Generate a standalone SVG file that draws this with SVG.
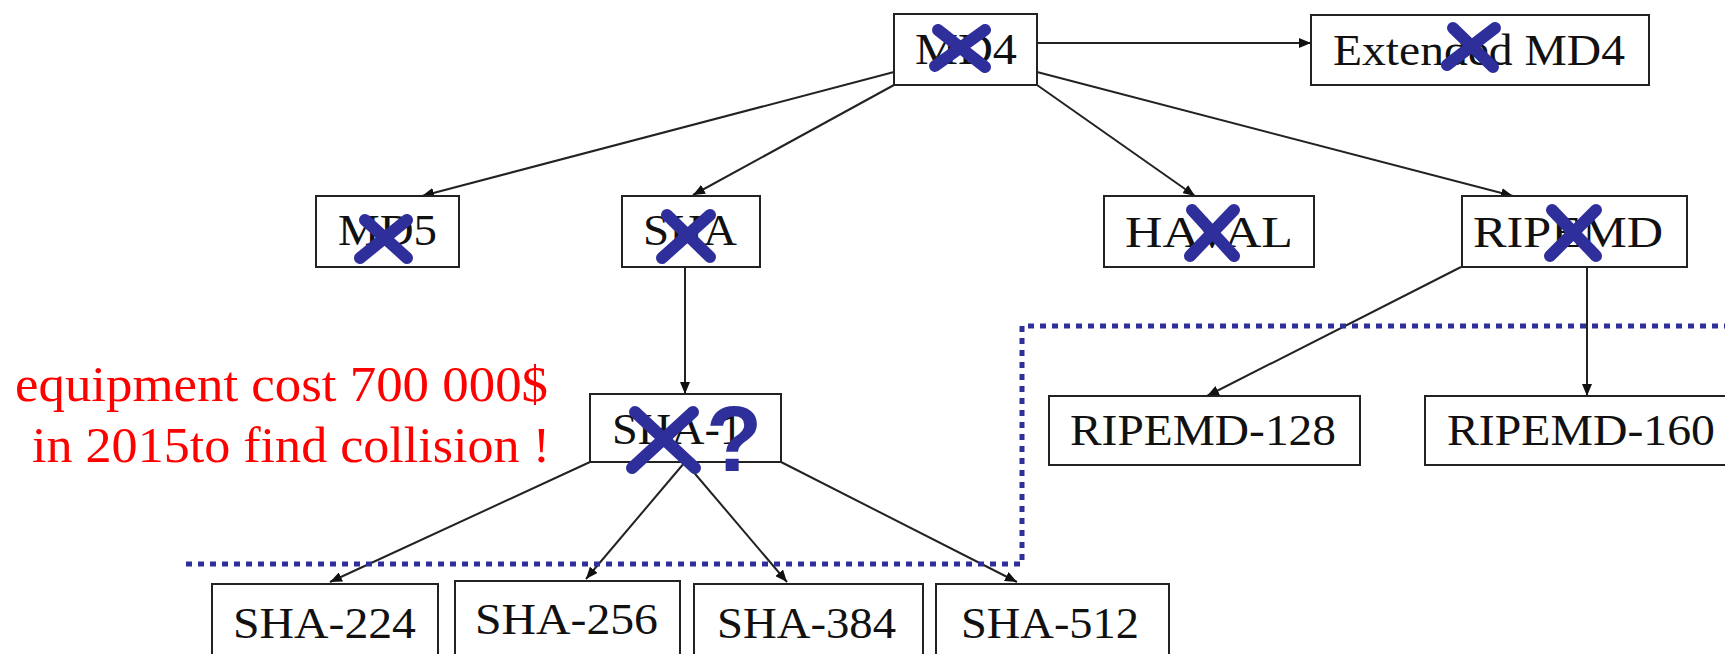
<svg xmlns="http://www.w3.org/2000/svg" width="1725" height="654" viewBox="0 0 1725 654">
  <defs>
    <marker id="arrow" markerUnits="userSpaceOnUse" markerWidth="12" markerHeight="10" refX="12" refY="5" orient="auto">
      <path d="M0,0 L12,5 L0,10 z" fill="#111"/>
    </marker>
    <style>
      .box { fill: #fff; stroke: #222; stroke-width: 2; }
      .serif { font-family: 'Times New Roman', 'Liberation Serif', Tinos, 'Nimbus Roman', 'Noto Serif', 'DejaVu Serif', FreeSerif, Times, serif; }
      .lbl { font-size: 44px; fill: #111; }
      .edge { stroke: #222; stroke-width: 2; fill: none; marker-end: url(#arrow); }
      .cross { stroke: #2f2f9c; stroke-width: 12; stroke-linecap: round; fill: none; }
      .boundary { stroke: #2f2f9c; stroke-width: 5; stroke-dasharray: 6 6; fill: none; }
      .note { font-size: 51px; fill: #ff0000; }
    </style>
  </defs>
  <rect width="1725" height="654" fill="#fff"/>

  <!-- connectors -->
  <g id="connectors">
    <path class="edge" d="M1037,43 L1311,43"/>
    <path class="edge" d="M894,72 L422,196"/>
    <path class="edge" d="M894,85 L693,195"/>
    <path class="edge" d="M1037,85 L1195,196"/>
    <path class="edge" d="M1037,72 L1513,196"/>
    <path class="edge" d="M685,267 L685,394"/>
    <path class="edge" d="M1461,267 L1207,396"/>
    <path class="edge" d="M1587,267 L1587,396"/>
    <path class="edge" d="M590,462 L330,582"/>
    <path class="edge" d="M685,462 L586,579"/>
    <path class="edge" d="M685,462 L787,582"/>
    <path class="edge" d="M781,462 L1017,582"/>
  </g>

  <!-- hash function nodes -->
  <g class="serif">
    <g id="md4">
      <rect class="box" x="894" y="14" width="143" height="71"/>
      <text class="lbl" x="915" y="64" textLength="102" lengthAdjust="spacingAndGlyphs">MD4</text>
    </g>
    <g id="extended-md4">
      <rect class="box" x="1311" y="15" width="338" height="70"/>
      <text class="lbl" x="1333" y="65" textLength="292" lengthAdjust="spacingAndGlyphs">Extended MD4</text>
    </g>
    <g id="md5">
      <rect class="box" x="316" y="196" width="143" height="71"/>
      <text class="lbl" x="338" y="245" textLength="99" lengthAdjust="spacingAndGlyphs">MD5</text>
    </g>
    <g id="sha">
      <rect class="box" x="622" y="196" width="138" height="71"/>
      <text class="lbl" x="643" y="245" textLength="94" lengthAdjust="spacingAndGlyphs">SHA</text>
    </g>
    <g id="haval">
      <rect class="box" x="1104" y="196" width="210" height="71"/>
      <text class="lbl" x="1125" y="247" textLength="168" lengthAdjust="spacingAndGlyphs">HAVAL</text>
    </g>
    <g id="ripemd">
      <rect class="box" x="1462" y="196" width="225" height="71"/>
      <text class="lbl" x="1473" y="247" textLength="190" lengthAdjust="spacingAndGlyphs">RIPEMD</text>
    </g>
    <g id="sha-1">
      <rect class="box" x="590" y="394" width="191" height="68"/>
      <text class="lbl" x="612" y="444" textLength="131" lengthAdjust="spacingAndGlyphs">SHA-1</text>
    </g>
    <g id="ripemd-128">
      <rect class="box" x="1049" y="396" width="311" height="69"/>
      <text class="lbl" x="1070" y="445" textLength="266" lengthAdjust="spacingAndGlyphs">RIPEMD-128</text>
    </g>
    <g id="ripemd-160">
      <rect class="box" x="1425" y="396" width="320" height="69"/>
      <text class="lbl" x="1447" y="445" textLength="268" lengthAdjust="spacingAndGlyphs">RIPEMD-160</text>
    </g>
    <g id="sha-224">
      <rect class="box" x="212" y="584" width="226" height="80"/>
      <text class="lbl" x="233" y="638" textLength="183" lengthAdjust="spacingAndGlyphs">SHA-224</text>
    </g>
    <g id="sha-256">
      <rect class="box" x="455" y="581" width="225" height="83"/>
      <text class="lbl" x="475" y="634" textLength="183" lengthAdjust="spacingAndGlyphs">SHA-256</text>
    </g>
    <g id="sha-384">
      <rect class="box" x="694" y="584" width="229" height="80"/>
      <text class="lbl" x="717" y="638" textLength="179" lengthAdjust="spacingAndGlyphs">SHA-384</text>
    </g>
    <g id="sha-512">
      <rect class="box" x="936" y="584" width="233" height="80"/>
      <text class="lbl" x="961" y="638" textLength="178" lengthAdjust="spacingAndGlyphs">SHA-512</text>
    </g>
  </g>

  <!-- dotted boundary -->
  <path class="boundary" d="M186,564 L1022,564 L1022,326 L1725,326"/>

  <!-- strike-through marks -->
  <g id="marks">
    <path class="cross" d="M938,30 L985,67 M985,30 L935,66"/>
    <path class="cross" d="M1453,28 L1493,67 M1495,28 L1447,65"/>
    <path class="cross" d="M365,220 L407,258 M407,220 L360,258"/>
    <path class="cross" d="M667,215 L710,257 M710,215 L662,258"/>
    <path class="cross" d="M1192,210 L1234,256 M1234,210 L1190,256"/>
    <path class="cross" d="M1552,210 L1596,256 M1596,210 L1550,256"/>
    <path class="cross" d="M635,412 L695,468 M693,412 L632,468"/>
    <text x="734" y="471" text-anchor="middle" font-family="Liberation Sans, Arial, sans-serif" font-weight="bold" font-size="92" fill="#2f2f9c">?</text>
  </g>

  <!-- annotation -->
  <g id="note" class="serif">
    <text class="note" x="15" y="401" textLength="533" lengthAdjust="spacingAndGlyphs">equipment cost 700 000$</text>
    <text class="note" x="32" y="462" textLength="518" lengthAdjust="spacingAndGlyphs">in 2015to find collision !</text>
  </g>
</svg>
